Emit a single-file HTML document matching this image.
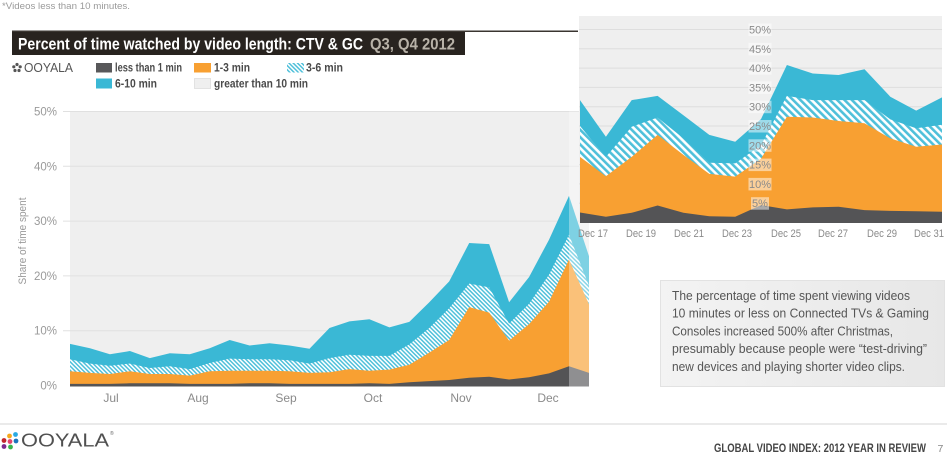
<!DOCTYPE html>
<html><head><meta charset="utf-8"><style>
html,body{margin:0;padding:0;background:#fff;}
svg{display:block;font-family:"Liberation Sans",sans-serif;}
</style></head><body>
<svg width="947" height="453" viewBox="0 0 947 453" xmlns="http://www.w3.org/2000/svg">
<defs>
<pattern id="hm" patternUnits="userSpaceOnUse" width="3" height="3" patternTransform="rotate(-45)"><rect width="3" height="3" fill="#fff"/><rect width="1.5" height="3" fill="#4fc0da"/></pattern>
<pattern id="hi" patternUnits="userSpaceOnUse" width="5.2" height="5.2" patternTransform="rotate(-45)"><rect width="5.2" height="5.2" fill="#fff"/><rect width="2.6" height="5.2" fill="#4fc0da"/></pattern>
<linearGradient id="bx" x1="0" y1="0" x2="1" y2="0"><stop offset="0" stop-color="#f3f3f3"/><stop offset="1" stop-color="#e7e7e7"/></linearGradient>
</defs>

<!-- top note -->
<text x="2" y="9" font-size="9.5" fill="#9a9a9a" textLength="128" lengthAdjust="spacingAndGlyphs">*Videos less than 10 minutes.</text>

<!-- title -->
<line x1="12" y1="31.2" x2="578" y2="31.2" stroke="#3a3530" stroke-width="1.5"/>
<rect x="12" y="32" width="453" height="23" fill="#28231f"/>
<text x="18" y="49.5" font-size="16.5" font-weight="bold" fill="#fff" textLength="345" lengthAdjust="spacingAndGlyphs">Percent of time watched by video length: CTV &amp; GC</text>
<text x="370" y="49.5" font-size="16.5" font-weight="bold" fill="#b8b2a8" textLength="85" lengthAdjust="spacingAndGlyphs">Q3, Q4 2012</text>

<!-- small logo -->
<g fill="#555">
<circle cx="17" cy="64.5" r="1.6"/><circle cx="20.2" cy="66.8" r="1.6"/><circle cx="19" cy="70.5" r="1.6"/><circle cx="15" cy="70.5" r="1.6"/><circle cx="13.8" cy="66.8" r="1.6"/>
</g>
<text x="24" y="72" font-size="12.5" fill="#555" textLength="49" lengthAdjust="spacingAndGlyphs">OOYALA</text>

<!-- legend -->
<rect x="96" y="63" width="16" height="9.5" fill="#58585a"/>
<text x="115" y="71.5" font-size="11.5" font-weight="bold" fill="#4a4a4a" textLength="67" lengthAdjust="spacingAndGlyphs">less than 1 min</text>
<rect x="194" y="63" width="17" height="9.5" fill="#f8a032"/>
<text x="214" y="71.5" font-size="11.5" font-weight="bold" fill="#4a4a4a" textLength="36" lengthAdjust="spacingAndGlyphs">1-3 min</text>
<rect x="287" y="63" width="17" height="9.5" fill="url(#hm)"/>
<text x="306" y="71.5" font-size="11.5" font-weight="bold" fill="#4a4a4a" textLength="37" lengthAdjust="spacingAndGlyphs">3-6 min</text>
<rect x="96" y="78.5" width="16" height="10" fill="#3ab8d5"/>
<text x="115" y="87.5" font-size="11.5" font-weight="bold" fill="#4a4a4a" textLength="42" lengthAdjust="spacingAndGlyphs">6-10 min</text>
<rect x="194.5" y="78.5" width="16" height="10" fill="#efefef" stroke="#dcdcdc" stroke-width="0.8"/>
<text x="214" y="87.5" font-size="11.5" font-weight="bold" fill="#4a4a4a" textLength="94" lengthAdjust="spacingAndGlyphs">greater than 10 min</text>

<!-- main chart -->
<rect x="70" y="111.5" width="519" height="275" fill="#efefef"/>
<g stroke="#e0e0e0" stroke-width="1">
<line x1="63" y1="111.5" x2="589" y2="111.5"/>
<line x1="63" y1="166.3" x2="589" y2="166.3"/>
<line x1="63" y1="221.1" x2="589" y2="221.1"/>
<line x1="63" y1="275.9" x2="589" y2="275.9"/>
<line x1="63" y1="330.7" x2="589" y2="330.7"/>
</g>
<g font-size="11.5" fill="#9a9a9a" text-anchor="end">
<text x="57" y="115.5">50%</text>
<text x="57" y="170.3">40%</text>
<text x="57" y="225.1">30%</text>
<text x="57" y="279.9">20%</text>
<text x="57" y="334.7">10%</text>
<text x="57" y="389.5">0%</text>
</g>
<text transform="translate(26,241) rotate(-90)" font-size="11" fill="#9a9a9a" text-anchor="middle" textLength="87" lengthAdjust="spacingAndGlyphs">Share of time spent</text>

<polygon fill="#3ab8d5" points="70,343.9 90,348.2 109.9,354.3 129.9,351 149.8,358.1 169.8,353.2 189.8,354.3 209.7,348.2 229.7,340 249.6,345.5 269.6,343.3 289.6,345.5 309.5,348.8 329.5,328 349.4,321.4 369.4,319.2 389.4,327.4 409.3,321.9 429.3,302.2 449.2,281.4 469.2,243 489.2,244.1 509.1,302.2 529.1,277 549,239.7 569,195.9 589,256.2 589,386 70,386"/>
<polygon fill="url(#hm)" points="70,359.2 90,363.6 109.9,365.8 129.9,363.6 149.8,368 169.8,366.3 189.8,369.1 209.7,363 229.7,358.6 249.6,359.2 269.6,359.2 289.6,360.3 309.5,363.6 329.5,358.1 349.4,354.8 369.4,355.9 389.4,355.9 409.3,344.4 429.3,328 449.2,308.2 469.2,283.6 489.2,287.4 509.1,323.6 529.1,303.8 549,274.8 569,234.8 589,285.8 589,386 70,386"/>
<polygon fill="#f8a032" points="70,371.3 90,372.9 109.9,374 129.9,371.3 149.8,374 169.8,374 189.8,375.6 209.7,371.3 229.7,370.7 249.6,370.7 269.6,370.7 289.6,371.3 309.5,372.9 329.5,372.3 349.4,369.1 369.4,370.7 389.4,369.6 409.3,364.7 429.3,352.6 449.2,340 469.2,307.1 489.2,312.6 509.1,340.6 529.1,324.1 549,301.7 569,259.5 589,304.4 589,386 70,386"/>
<polygon fill="#545456" points="70,383.9 90,383.9 109.9,383.9 129.9,383.3 149.8,383.3 169.8,383.3 189.8,383.9 209.7,383.9 229.7,383.9 249.6,383.3 269.6,383.3 289.6,383.9 309.5,383.9 329.5,383.9 349.4,383.9 369.4,383.3 389.4,383.9 409.3,382.2 429.3,381.1 449.2,380 469.2,377.8 489.2,376.7 509.1,379.5 529.1,377.3 549,373.4 569,366.3 589,372.9 589,386.5 70,386.5"/>
<rect x="569" y="111.5" width="20" height="275" fill="#fff" opacity="0.35"/>

<g font-size="12" fill="#8a8a8a" text-anchor="middle">
<text x="111" y="402">Jul</text>
<text x="198" y="402">Aug</text>
<text x="286" y="402">Sep</text>
<text x="373" y="402">Oct</text>
<text x="461" y="402">Nov</text>
<text x="548" y="402">Dec</text>
</g>

<!-- inset chart -->
<rect x="579" y="16" width="363" height="207" fill="#efefef"/>
<g stroke="#dedede" stroke-width="1">
<line x1="579" y1="29.5" x2="942" y2="29.5"/>
<line x1="579" y1="48.8" x2="942" y2="48.8"/>
<line x1="579" y1="68.1" x2="942" y2="68.1"/>
<line x1="579" y1="87.4" x2="942" y2="87.4"/>
<line x1="579" y1="106.7" x2="942" y2="106.7"/>
<line x1="579" y1="126" x2="942" y2="126"/>
<line x1="579" y1="145.3" x2="942" y2="145.3"/>
<line x1="579" y1="164.6" x2="942" y2="164.6"/>
<line x1="579" y1="183.9" x2="942" y2="183.9"/>
<line x1="579" y1="203.2" x2="942" y2="203.2"/>
</g>
<polygon fill="#3ab8d5" points="580,100.1 605.9,136.8 631.7,100.1 657.6,95.9 683.4,115.2 709.3,134.9 735.2,141.8 761,119.1 786.9,65 812.7,73.5 838.6,75 864.5,69.3 890.3,96.7 916.2,110.6 942,97.4 942,223 580,223"/>
<polygon fill="url(#hi)" points="580,126 605.9,156.9 631.7,126.8 657.6,117.5 683.4,138.4 709.3,162.7 735.2,163.4 761,145.3 786.9,95.9 812.7,100.1 838.6,100.1 864.5,100.1 890.3,119.4 916.2,128.3 942,124.8 942,223 580,223"/>
<polygon fill="#f8a032" points="580,156.9 605.9,176.2 631.7,156.9 657.6,134.9 683.4,154.9 709.3,173.9 735.2,176.6 761,158.8 786.9,116.7 812.7,117.5 838.6,121 864.5,123.3 890.3,138.4 916.2,146.8 942,144.5 942,223 580,223"/>
<polygon fill="#545456" points="580,212.5 605.9,216.7 631.7,212.8 657.6,205.5 683.4,212.8 709.3,216.3 735.2,216.7 761,205.1 786.9,209.4 812.7,207.4 838.6,206.7 864.5,210.1 890.3,210.9 916.2,211.3 942,211.7 942,223 580,223"/>

<g fill="#fff" opacity="0.5">
<rect x="748.5" y="23.5" width="23" height="12.5"/>
<rect x="748.5" y="42.8" width="23" height="12.5"/>
<rect x="748.5" y="62.1" width="23" height="12.5"/>
<rect x="748.5" y="81.4" width="23" height="12.5"/>
<rect x="748.5" y="100.7" width="23" height="12.5"/>
<rect x="748.5" y="120" width="23" height="12.5"/>
<rect x="748.5" y="139.3" width="23" height="12.5"/>
<rect x="748.5" y="158.6" width="23" height="12.5"/>
<rect x="748.5" y="177.9" width="23" height="12.5"/>
<rect x="751" y="197.2" width="18" height="12.5"/>
</g>
<g font-size="11" fill="#8a8a8a" text-anchor="middle">
<text x="760" y="33.5">50%</text>
<text x="760" y="52.8">45%</text>
<text x="760" y="72.1">40%</text>
<text x="760" y="91.4">35%</text>
<text x="760" y="110.7">30%</text>
<text x="760" y="130">25%</text>
<text x="760" y="149.3">20%</text>
<text x="760" y="168.6">15%</text>
<text x="760" y="187.9">10%</text>
<text x="760" y="207.2">5%</text>
</g>
<g font-size="11" fill="#8a8a8a" text-anchor="middle">
<text x="593" y="237" textLength="30" lengthAdjust="spacingAndGlyphs">Dec 17</text>
<text x="641" y="237" textLength="30" lengthAdjust="spacingAndGlyphs">Dec 19</text>
<text x="689" y="237" textLength="30" lengthAdjust="spacingAndGlyphs">Dec 21</text>
<text x="737" y="237" textLength="30" lengthAdjust="spacingAndGlyphs">Dec 23</text>
<text x="786" y="237" textLength="30" lengthAdjust="spacingAndGlyphs">Dec 25</text>
<text x="833" y="237" textLength="30" lengthAdjust="spacingAndGlyphs">Dec 27</text>
<text x="882" y="237" textLength="30" lengthAdjust="spacingAndGlyphs">Dec 29</text>
<text x="929" y="237" textLength="30" lengthAdjust="spacingAndGlyphs">Dec 31</text>
</g>

<!-- annotation box -->
<rect x="660.5" y="280.5" width="284" height="106" fill="url(#bx)" stroke="#e2e2e2" stroke-width="1"/>
<g font-size="12.5" fill="#555" lengthAdjust="spacingAndGlyphs">
<text x="672" y="300" textLength="238" lengthAdjust="spacingAndGlyphs">The percentage of time spent viewing videos</text>
<text x="672" y="317.7" textLength="257" lengthAdjust="spacingAndGlyphs">10 minutes or less on Connected TVs &amp; Gaming</text>
<text x="672" y="335.4" textLength="221" lengthAdjust="spacingAndGlyphs">Consoles increased 500% after Christmas,</text>
<text x="672" y="353.1" textLength="255" lengthAdjust="spacingAndGlyphs">presumably because people were “test-driving”</text>
<text x="672" y="370.8" textLength="233" lengthAdjust="spacingAndGlyphs">new devices and playing shorter video clips.</text>
</g>

<!-- footer -->
<line x1="0" y1="424" x2="947" y2="424" stroke="#dedede" stroke-width="1.2"/>
<g>
<circle cx="9.5" cy="436" r="2.4" fill="#f6a81c"/>
<circle cx="15.5" cy="434.5" r="2.4" fill="#29aae1"/>
<circle cx="4" cy="440.5" r="2.4" fill="#c1272d"/>
<circle cx="10" cy="441.5" r="2.4" fill="#e2446f"/>
<circle cx="16" cy="441" r="2.4" fill="#1c75bc"/>
<circle cx="4" cy="446.5" r="2.4" fill="#7b2a8c"/>
<circle cx="10.5" cy="447" r="2.4" fill="#39b54a"/>
</g>
<text x="21" y="446.5" font-size="18.5" fill="#505050" textLength="88" lengthAdjust="spacingAndGlyphs">OOYALA</text>
<text x="110" y="435" font-size="5" fill="#666">®</text>
<text x="714" y="452" font-size="12" font-weight="bold" fill="#454545" textLength="212" lengthAdjust="spacingAndGlyphs">GLOBAL VIDEO INDEX: 2012 YEAR IN REVIEW</text>
<text x="937.5" y="452" font-size="10.5" fill="#888">7</text>
</svg>
</body></html>
